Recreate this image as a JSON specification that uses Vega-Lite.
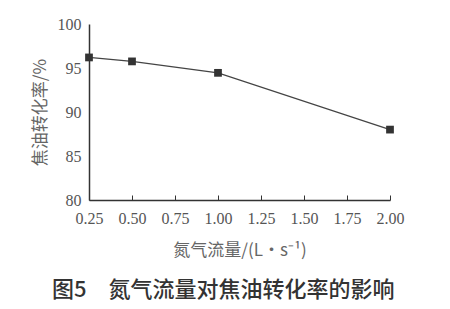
{
  "$schema": "https://vega.github.io/schema/vega-lite/v6.json",
  "width": 301,
  "height": 176,
  "autosize": {"type": "none"},
  "padding": {"left": 89, "top": 24, "right": 60, "bottom": 109},
  "background": "white",
  "data": {"values": [
    {"flow": 0.25, "rate": 96.2},
    {"flow": 0.5, "rate": 95.75},
    {"flow": 1.0, "rate": 94.45},
    {"flow": 2.0, "rate": 88.0}
  ]},
  "title": {
    "text": "图5　氮气流量对焦油转化率的影响",
    "orient": "bottom",
    "anchor": "start",
    "dx": 21,
    "offset": 22,
    "font": "Noto Sans CJK SC",
    "fontSize": 22,
    "fontWeight": 500,
    "color": "#333"
  },
  "config": {
    "view": {"stroke": null},
    "axis": {
      "grid": false,
      "domainColor": "#333",
      "domainWidth": 1.5,
      "tickColor": "#333",
      "labelColor": "#555",
      "titleFont": "Noto Sans CJK SC",
      "titleFontSize": 17,
      "titleFontWeight": "normal",
      "titleColor": "#666"
    }
  },
  "encoding": {
    "x": {
      "field": "flow",
      "type": "quantitative",
      "scale": {"domain": [0.25, 2.0], "nice": false, "zero": false},
      "axis": {
        "title": "氮气流量/(L·s⁻¹)",
        "values": [0.25, 0.5, 0.75, 1.0, 1.25, 1.5, 1.75, 2.0],
        "format": ".2f",
        "tickSize": -5,
        "labelFont": "Liberation Serif, Times New Roman, serif",
        "labelFontSize": 16,
        "labelPadding": 15,
        "labelFlush": false,
        "titlePadding": 16
      }
    },
    "y": {
      "field": "rate",
      "type": "quantitative",
      "scale": {"domain": [80, 100], "nice": false, "zero": false},
      "axis": {
        "title": "焦油转化率/%",
        "values": [80, 85, 90, 95, 100],
        "ticks": false,
        "labelFont": "Liberation Serif, Times New Roman, serif",
        "labelFontSize": 16,
        "labelPadding": 8,
        "labelFlush": false,
        "titlePadding": 8
      }
    }
  },
  "layer": [
    {"mark": {"type": "line", "color": "#444", "strokeWidth": 1.2}},
    {"mark": {"type": "point", "shape": "square", "filled": true, "size": 60, "color": "#333", "opacity": 1}}
  ]
}
